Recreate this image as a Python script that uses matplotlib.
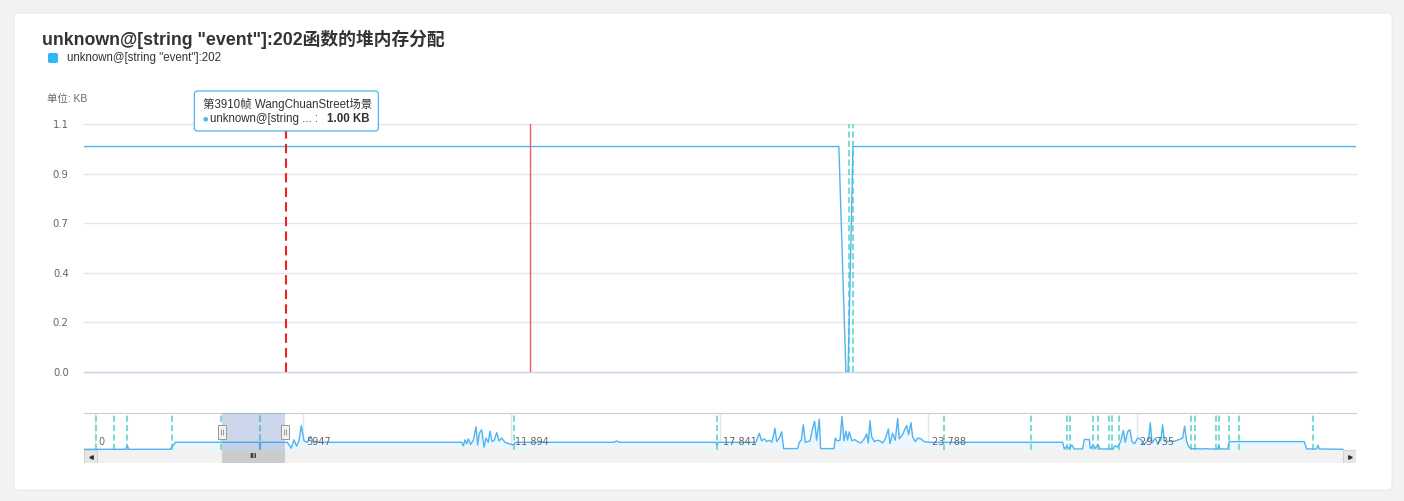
import matplotlib
matplotlib.use('Agg')
import matplotlib.pyplot as plt
from matplotlib.patches import FancyBboxPatch, Rectangle
from matplotlib.path import Path
from matplotlib.transforms import blended_transform_factory, IdentityTransform

W, H, DPI = 1404, 501, 100

# ---- data ----
series_name = 'unknown@[string "event"]:202'
chart_title = series_name + '函数的堆内存分配'
unit_label = '单位: KB'

frame_no = [-302, 887, 934, 972, 2152, 2313, 4703, 4713, 4716, 4723,
            5500, 5614, 5690, 5766, 5833, 5899, 5975, 6070, 6166, 6242,
            10475, 10523, 10571, 10618, 10666, 10732, 10808, 10884, 10932, 10980,
            11046, 11113, 11170, 11236, 11284, 11341, 11407, 11474, 11541, 11617,
            11712, 11950, 12017, 14822, 14899, 14975, 17733, 17762, 17790, 18874,
            18969, 19036, 19112, 19179, 19255, 19331, 19416, 19464, 19540, 19607,
            19664, 20063, 20111, 20168, 20225, 20282, 20415, 20491, 20548, 20605,
            20681, 20719, 21100, 21138, 21195, 21271, 21328, 21385, 21442, 21489,
            21537, 21613, 21689, 21775, 21870, 21965, 22032, 22079, 22127, 22174,
            22250, 22345, 22412, 22488, 22583, 22650, 22697, 22773, 22849, 22916,
            22964, 23059, 23125, 23173, 23230, 23296, 23344, 23420, 23487, 23582,
            23677, 23820, 27625, 27673, 27739, 27815, 27891, 27958, 28196, 28243,
            28386, 28414, 28500, 28557, 28633, 28690, 29071, 29118, 29194, 29290,
            29356, 29413, 29480, 29546, 29603, 29680, 29765, 29860, 29955, 30079,
            30127, 30174, 30269, 30336, 30431, 30479, 30526, 30716, 30840, 30954,
            31049, 31106, 31163, 31220, 31287, 31620, 31715, 31810, 32048, 32076,
            32124, 32333, 32381, 34521, 34588, 34873, 34911, 34949, 35625]
heap_kb = [0.0, 0.0, 0.55, 0.0, 0.0, 1.0, 1.0, 0.0, 0.0, 1.0,
           1.0, 0.15, 1.35, 0.45, 1.2, 3.4, 1.2, 1.0, 1.85, 1.0,
           1.0, 0.5, 1.35, 0.8, 1.5, 0.7, 1.3, 3.2, 0.6, 2.3,
           2.8, 0.3, 1.6, 1.0, 2.6, 1.1, 1.3, 2.4, 1.2, 1.6,
           1.0, 0.6, 1.0, 1.0, 1.2, 1.0, 1.0, 0.6, 1.0, 1.0,
           2.3, 1.2, 1.5, 1.1, 1.3, 1.0, 3.0, 1.1, 1.6, 2.5,
           0.1, 0.1, 1.0, 1.3, 3.5, 1.0, 1.2, 3.0, 4.0, 1.3,
           4.3, 0.1, 0.1, 1.6, 1.2, 1.3, 4.7, 1.2, 2.6, 1.3,
           2.5, 1.2, 1.4, 1.1, 0.9, 1.5, 2.2, 0.9, 4.1, 1.8,
           1.1, 1.3, 1.2, 0.9, 1.7, 2.9, 0.8, 2.3, 1.3, 4.4,
           1.5, 2.1, 2.9, 3.4, 2.1, 3.8, 1.8, 1.1, 1.6, 1.5,
           1.1, 1.0, 1.0, 0.05, 0.4, 0.1, 0.6, 0.05, 0.05, 1.4,
           1.4, 0.1, 0.6, 0.1, 0.7, 0.05, 0.05, 0.5, 0.3, 1.2,
           2.7, 1.0, 2.5, 2.8, 1.1, 0.8, 1.6, 1.4, 0.7, 1.4,
           3.8, 0.9, 1.6, 0.8, 1.4, 3.5, 1.2, 1.1, 1.2, 1.4,
           1.6, 3.3, 1.1, 0.4, 0.1, 0.05, 0.1, 0.05, 0.05, 0.5,
           0.05, 0.05, 1.1, 1.1, 0.05, 0.05, 0.6, 0.05, 0.0]

full_range = (-302, 35997)
view_range = (3636, 5434)
hover_x = 3922
hover_title = '第3910帧 WangChuanStreet场景'
hover_value = 1.00
current_frame = 4266
scene_marks = [40, 554, 925, 2209, 3607, 4718, 4723, 11968, 17761, 24239,
               26722, 27750, 27835, 28491, 28634, 28948, 29033, 29233, 31288, 31402,
               32002, 32087, 32372, 32658, 34770]
main_yticks = [0, 0.22, 0.44, 0.66, 0.88, 1.1]
nav_ticks = [0, 5947, 11894, 17841, 23788, 29735]

line_c = '#4fb4f0'
legend_c = '#2db7f5'
grid_c = '#e6e6e6'
mark_c = '#7fdcd4'
mixed_font = ['Liberation Sans', 'Noto Sans CJK SC']


def fbox(x0, y0, x1, y1):
    return [x0 / W, 1 - y1 / H, (x1 - x0) / W, (y1 - y0) / H]


def tick_text(v):
    # thousands get a space only from five digits on
    return f'{v:,}'.replace(',', ' ') if v >= 10000 else str(v)


fig = plt.figure(figsize=(W / DPI, H / DPI), dpi=DPI, facecolor='#f2f2f2')
card = FancyBboxPatch((14 / DPI, (H - 490) / DPI), 1378 / DPI, 477 / DPI,
                      boxstyle='round,pad=0,rounding_size=0.04',
                      transform=fig.dpi_scale_trans, fc='white', ec='#e6e6e6', lw=0.6, zorder=-1)
fig.add_artist(card)

# ---- main chart ----
ax = fig.add_axes(fbox(84, 124, 1356, 372))
ax.plot(frame_no, heap_kb, color=line_c, lw=1, zorder=3)
ax.set_xlim(view_range)
ax.set_ylim(0, main_yticks[-1])
ax.set_yticks(main_yticks)
ax.set_yticklabels([f'{v:.1f}' for v in main_yticks])
ax.tick_params(axis='y', length=0, pad=11, labelsize=7.2, labelcolor='#666666')
ax.set_xticks([])
for s in ax.spines.values():
    s.set_visible(False)
ax.grid(axis='y', color=grid_c, lw=1)
ax.set_axisbelow(True)
for gl in ax.get_ygridlines():
    gl.set_clip_on(False)
ax.axhline(0, color='#ccd6eb', lw=1, clip_on=False, zorder=2)
for f in scene_marks:
    if view_range[0] <= f <= view_range[1]:
        ax.axvline(f, color=mark_c, lw=1.5, ls=(0, (3, 1.5)), zorder=2.5)
ax.axvline(hover_x, color='#ee2222', lw=1.5, ls=(0, (4.5, 2.5)), zorder=4)
ax.axvline(current_frame, color='#f45a6e', lw=1, zorder=4)

# ---- navigator ----
nav = fig.add_axes(fbox(84, 413, 1356, 450))
nav.fill_between(frame_no, heap_kb, -0.1, color='#eef6fd', lw=0, zorder=1)
nav.plot(frame_no, heap_kb, color=line_c, lw=1, zorder=3)
nav.set_xticks([])
nav.set_yticks([])
for k, s in nav.spines.items():
    s.set_visible(k == 'top')
nav.spines['top'].set_color('#cccccc')
blend = blended_transform_factory(nav.transData, nav.transAxes)
for t in nav_ticks:
    nav.axvline(t, color=grid_c, lw=1, zorder=0.5)
    nav.annotate(tick_text(t), (t, 0.22), xycoords=blend,
                 xytext=(2.5, 0), textcoords='offset points', va='center',
                 fontsize=7, color='#666666', zorder=4)
for f in scene_marks:
    nav.axvline(f, color=mark_c, lw=1.5, ls=(0, (3, 1.5)), zorder=2)
nav.axvspan(*view_range, color=(0.40, 0.52, 0.76, 0.32), lw=0, zorder=5)
handle = Path([(-0.54, -1), (0.54, -1), (0.54, 1), (-0.54, 1), (-0.54, -1),
               (-0.15, -0.45), (-0.15, 0.45), (0.15, -0.45), (0.15, 0.45)],
              [Path.MOVETO, Path.LINETO, Path.LINETO, Path.LINETO, Path.CLOSEPOLY,
               Path.MOVETO, Path.LINETO, Path.MOVETO, Path.LINETO])
nav.plot(list(view_range), [0.49, 0.49], transform=blend, ls='none', marker=handle,
         ms=10.1, mfc='#f2f2f2', mec='#999999', mew=0.7, zorder=6, clip_on=False)
nav.set_xlim(full_range)
nav.set_ylim(-0.1, 5.19)

# ---- scrollbar ----
sb = fig.add_axes(fbox(84, 450, 1356, 463))
sb.set_facecolor('#f2f2f2')
sb.set_xlim(full_range)
sb.set_ylim(0, 1)
sb.set_xticks([])
sb.set_yticks([])
for s in sb.spines.values():
    s.set_visible(False)
sb.axvspan(*view_range, color='#cccccc', lw=0)
sb.text(sum(view_range) / 2, 0.5, 'III', ha='center', va='center', fontsize=5,
        weight='bold', color='#333333')
bw = 13 / 1272
for x0, mk in [(0, '<'), (1 - bw, '>')]:
    sb.add_patch(Rectangle((x0, 0), bw, 1, transform=sb.transAxes, fc='#e6e6e6',
                           ec='#cccccc', lw=0.6))
    sb.plot(x0 + bw / 2, 0.5, marker=mk, ms=2.5, color='#333333', transform=sb.transAxes)

# ---- title / legend / unit ----
fig.text(42 / W, 1 - 39 / H, chart_title, fontsize=12.8, weight='bold', color='#333333',
         va='center', family=mixed_font)
fig.add_artist(FancyBboxPatch((48 / DPI, (H - 63) / DPI), 10 / DPI, 10 / DPI,
                              boxstyle='round,pad=0,rounding_size=0.02',
                              transform=fig.dpi_scale_trans, fc=legend_c, lw=0))
fig.text(67 / W, 1 - 58 / H, series_name, fontsize=8.3, color='#333333', va='center',
         family=mixed_font)
fig.text(47 / W, 1 - 99 / H, unit_label, fontsize=7.5, color='#666666', va='center',
         family=mixed_font)

# ---- tooltip ----
hx = ax.transData.transform((hover_x, 0))[0]
ident = IdentityTransform()
fig.add_artist(FancyBboxPatch((hx - 92, H - 131), 184, 40,
                              boxstyle='round,pad=0,rounding_size=3', transform=ident,
                              fc='white', ec='#4fb4f0', lw=0.9, zorder=5))
fig.text(hx - 83, H - 104, hover_title, transform=ident, fontsize=8.3, color='#333333',
         va='center', family=mixed_font, zorder=6)
fig.text(hx - 81, H - 119, '●', transform=ident, fontsize=4.5, color=line_c,
         va='center', ha='center', zorder=6)
fig.text(hx - 76, H - 119, 'unknown@[string ... :', transform=ident, fontsize=8.3,
         color='#333333', va='center', family=mixed_font, zorder=6)
fig.text(hx + 83, H - 119, f'{hover_value:.2f} KB', transform=ident, fontsize=8.3,
         color='#333333', va='center', ha='right', weight='bold', family=mixed_font, zorder=6)

fig.savefig('out.png', dpi=DPI, facecolor=fig.get_facecolor())
